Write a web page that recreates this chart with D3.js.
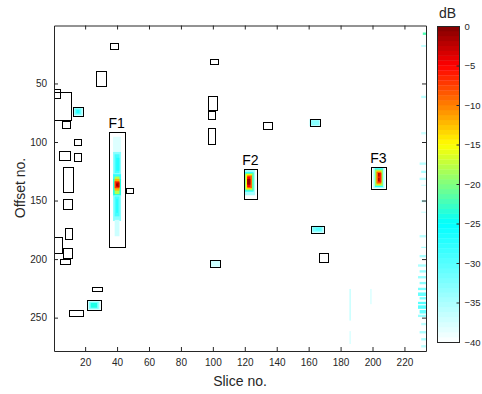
<!DOCTYPE html>
<html>
<head>
<meta charset="utf-8">
<script src="https://cdn.jsdelivr.net/npm/d3@7"></script>
<style>
  body { margin: 0; background: #fff; }
  text { font-family: "Liberation Sans", Arial, Helvetica, sans-serif; fill: #262626; }
</style>
</head>
<body>
<svg id="chart" width="482" height="394"></svg>
<script>
// Grid size of the slice/offset map
const nSlices = 233;
const nOffsets = 278;

// Axis ticks
const sliceTicks = [20, 40, 60, 80, 100, 120, 140, 160, 180, 200, 220];
const offsetTicks = [50, 100, 150, 200, 250];
const dbTicks = [0, -5, -10, -15, -20, -25, -30, -35, -40];

// Level patches: [sliceStart, sliceEnd, offsetStart, offsetEnd, dB]; later rows sit on top
const focusF1 = [
  [38, 42, 96, 109, -38],
  [38, 42, 109, 128, -33],
  [39, 41, 111, 126, -29],
  [40, 41, 114, 124, -27],
  [38, 42, 128, 132, -28],
  [38, 42, 132, 146, -24],
  [39, 41, 130, 144, -18],
  [39, 41, 132, 141, -12],
  [39, 41, 134, 139, -7],
  [40, 41, 135, 138, -3],
  [40, 40, 136, 137, -1],
  [38, 42, 146, 167, -33],
  [39, 41, 147, 163, -29],
  [40, 40, 149, 160, -27],
  [39, 41, 167, 180, -37]
];
const focusF2 = [
  [120, 126, 124, 145, -35],
  [120, 125, 126, 142, -28],
  [121, 125, 127, 141, -21],
  [121, 124, 128, 140, -15],
  [122, 124, 129, 139, -9],
  [122, 123, 130, 138, -5],
  [122, 123, 132, 136, -1]
];
const focusF3 = [
  [201, 207, 122, 139, -35],
  [202, 206, 123, 138, -27],
  [202, 206, 124, 137, -19],
  [203, 205, 125, 136, -13],
  [203, 205, 126, 135, -9],
  [204, 205, 127, 134, -6],
  [204, 204, 127, 129, -2],
  [204, 204, 131, 133, -2]
];
const weakSpots = [
  [13, 18, 71, 77, -35], [14, 17, 72, 76, -31], [15, 16, 73, 75, -27],
  [161, 167, 81, 86, -36], [162, 166, 82, 85, -33],
  [162, 169, 172, 177, -36], [163, 168, 173, 176, -32], [165, 167, 174, 175, -30],
  [22, 29, 236, 243, -37], [23, 28, 237, 242, -32], [24, 27, 238, 241, -24],
  [99, 104, 202, 206, -37],
  [186, 186, 226, 252, -37], [186, 186, 262, 272, -38],
  [199, 199, 226, 238, -38]
];
const edgeStreaks = [
  [232, 233, 7, 8, -22], [231, 233, 18, 18, -34], [231, 233, 61, 62, -36],
  [231, 233, 92, 93, -37], [230, 233, 118, 119, -36], [231, 233, 125, 126, -35],
  [230, 233, 131, 132, -36], [231, 233, 137, 137, -37], [231, 233, 150, 151, -37],
  [231, 233, 160, 160, -37], [230, 233, 180, 181, -36], [231, 233, 190, 190, -35],
  [230, 233, 197, 198, -35], [229, 233, 205, 206, -35], [230, 233, 210, 211, -34],
  [229, 233, 215, 216, -34], [230, 233, 220, 221, -33], [229, 233, 225, 226, -32],
  [229, 233, 229, 231, -31], [230, 233, 233, 234, -32], [229, 233, 237, 238, -30],
  [229, 233, 240, 242, -30], [230, 233, 244, 246, -31], [229, 233, 248, 249, -34],
  [231, 233, 255, 256, -36], [230, 233, 262, 263, -35], [231, 233, 268, 269, -35],
  [231, 233, 274, 275, -36]
];

// Region outlines: [sliceStart, sliceEnd, offsetStart, offsetEnd] in slice/offset units
const regionBoxes = [
  [35.8, 40.8, 15.2, 20.3], [26.6, 32.9, 39.1, 52.4], [0.5, 4.4, 54.5, 62.7],
  [0.5, 11.3, 57.3, 81.2], [12.4, 18.7, 70.4, 77.5], [5.3, 10.5, 81.8, 88.3],
  [13.0, 17.6, 97.2, 102.8], [3.4, 10.7, 107.4, 115.6], [13.0, 17.6, 109.4, 116.5],
  [6.3, 12.6, 121.4, 142.7], [45.6, 50.2, 139.5, 143.3],
  [98.0, 103.4, 28.7, 33.6], [97.1, 102.5, 61.1, 72.7], [97.1, 101.5, 73.3, 80.6],
  [97.1, 101.5, 88.2, 101.5], [6.3, 11.6, 148.4, 157.5], [7.4, 11.8, 173.5, 182.6],
  [0.5, 5.7, 181.4, 194.6], [6.3, 11.8, 190.5, 199.1], [4.3, 10.5, 200.2, 204.5],
  [24.3, 30.8, 224.1, 227.3], [21.4, 29.8, 235.2, 243.5], [10.1, 18.9, 243.5, 248.9],
  [131.6, 136.8, 82.7, 88.9], [160.7, 167.1, 80.4, 86.6], [161.7, 169.4, 171.5, 177.7],
  [166.7, 172.3, 195.1, 202.7], [98.2, 104.4, 201.0, 206.5]
];
// Labelled focus regions
const focusNames = ["F1", "F2", "F3"];
const focusBoxes = [
  [34.8, 44.8, 91.5, 189.4],
  [119.3, 127.6, 123.1, 148.9],
  [199.0, 208.3, 121.1, 140.4]
];

const svg = d3.select("#chart");
const axisColor = "#262626";

const x = d3.scaleLinear().domain([0.5, nSlices + 0.5]).range([54, 426]);
const y = d3.scaleLinear().domain([0.5, nOffsets + 0.5]).range([25.5, 351]);
const color = d3.scaleLinear()
  .domain([-40, -25, -15, -5, 0])
  .range(["#ffffff", "#00ffff", "#ffff00", "#ff0000", "#800000"])
  .clamp(true);

const defs = svg.append("defs");
defs.append("clipPath").attr("id", "plotClip")
  .append("rect").attr("x", 54).attr("y", 25.5).attr("width", 372).attr("height", 325.5);
defs.append("filter").attr("id", "soft")
  .attr("x", "-5%").attr("y", "-5%").attr("width", "110%").attr("height", "110%")
  .append("feGaussianBlur").attr("stdDeviation", 0.7);

// Heat map cells
const heat = svg.append("g").attr("clip-path", "url(#plotClip)")
  .append("g").attr("filter", "url(#soft)");
const patches = [].concat(edgeStreaks, weakSpots, focusF1, focusF2, focusF3);
heat.selectAll("rect.cell").data(patches).join("rect")
  .attr("class", "cell")
  .attr("x", d => x(d[0] - 0.5))
  .attr("y", d => y(d[2] - 0.5))
  .attr("width", d => x(d[1] + 0.5) - x(d[0] - 0.5))
  .attr("height", d => y(d[3] + 0.5) - y(d[2] - 0.5))
  .attr("fill", d => color(d[4]));

// Region outlines
const boxG = svg.append("g");
const drawBox = (sel) => sel
  .attr("x", d => Math.round(x(d[0])) + 0.5)
  .attr("y", d => Math.round(y(d[2])) + 0.5)
  .attr("width", d => Math.round(x(d[1])) - Math.round(x(d[0])))
  .attr("height", d => Math.round(y(d[3])) - Math.round(y(d[2])))
  .attr("fill", "none").attr("stroke", "#000").attr("stroke-width", 1);
boxG.selectAll("rect.box").data(regionBoxes).join("rect").attr("class", "box").call(drawBox);
boxG.selectAll("rect.focus").data(focusBoxes).join("rect").attr("class", "focus").call(drawBox);
boxG.selectAll("text.focus").data(focusBoxes).join("text")
  .attr("class", "focus")
  .attr("x", d => x((d[0] + d[1]) / 2))
  .attr("y", d => y(d[2]) - 4)
  .attr("text-anchor", "middle")
  .style("font-size", "14px")
  .style("fill", "#000")
  .text((d, i) => focusNames[i]);

// Axes with inward ticks on all four sides
const tickLen = 4;
const xb = svg.append("g").attr("transform", "translate(0,351)")
  .call(d3.axisBottom(x).tickValues(sliceTicks).tickSizeInner(-tickLen).tickSizeOuter(0).tickPadding(8));
const xt = svg.append("g").attr("transform", "translate(0,25.5)")
  .call(d3.axisTop(x).tickValues(sliceTicks).tickSizeInner(-tickLen).tickSizeOuter(0).tickFormat(""));
const yl = svg.append("g").attr("transform", "translate(54,0)")
  .call(d3.axisLeft(y).tickValues(offsetTicks).tickSizeInner(-tickLen).tickSizeOuter(0).tickPadding(7));
const yr = svg.append("g").attr("transform", "translate(426,0)")
  .call(d3.axisRight(y).tickValues(offsetTicks).tickSizeInner(-tickLen).tickSizeOuter(0).tickFormat(""));
[xb, xt, yl, yr].forEach(g => {
  g.select(".domain").attr("stroke", axisColor);
  g.selectAll(".tick line").attr("stroke", axisColor);
  g.selectAll(".tick text").style("font-size", "10px").style("font-family", "'Liberation Sans', Arial, sans-serif").attr("fill", axisColor);
});

// Axis titles
svg.append("text").attr("x", 240).attr("y", 386).attr("text-anchor", "middle")
  .style("font-size", "14px").text("Slice no.");
svg.append("text").attr("transform", "translate(25,188) rotate(-90)").attr("text-anchor", "middle")
  .style("font-size", "14px").text("Offset no.");

// Colour bar
const cb = { x: 437, w: 22, top: 26, bottom: 342 };
const cbScale = d3.scaleLinear().domain([-40, 0]).range([cb.bottom, cb.top]);
const nSteps = 64;
const steps = d3.range(nSteps).map(i => -40 + (i + 0.5) * 40 / nSteps);
svg.append("g").selectAll("rect").data(steps).join("rect")
  .attr("x", cb.x)
  .attr("y", d => cbScale(d + 20 / nSteps))
  .attr("width", cb.w)
  .attr("height", (cb.bottom - cb.top) / nSteps + 0.3)
  .attr("fill", d => color(d));
svg.append("rect").attr("x", cb.x + 0.5).attr("y", cb.top + 0.5)
  .attr("width", cb.w).attr("height", cb.bottom - cb.top)
  .attr("fill", "none").attr("stroke", axisColor);
const cbAxis = svg.append("g").attr("transform", `translate(${cb.x + cb.w + 0.5},0)`)
  .call(d3.axisRight(cbScale).tickValues(dbTicks).tickSizeInner(-3).tickSizeOuter(0).tickPadding(5));
cbAxis.select(".domain").remove();
cbAxis.selectAll(".tick line").attr("stroke", axisColor);
cbAxis.selectAll(".tick text").style("font-size", "9.5px").style("font-family", "'Liberation Sans', Arial, sans-serif").attr("fill", axisColor);
svg.append("text").attr("x", 447.5).attr("y", 18).attr("text-anchor", "middle")
  .style("font-size", "14px").text("dB");
</script>
</body>
</html>
